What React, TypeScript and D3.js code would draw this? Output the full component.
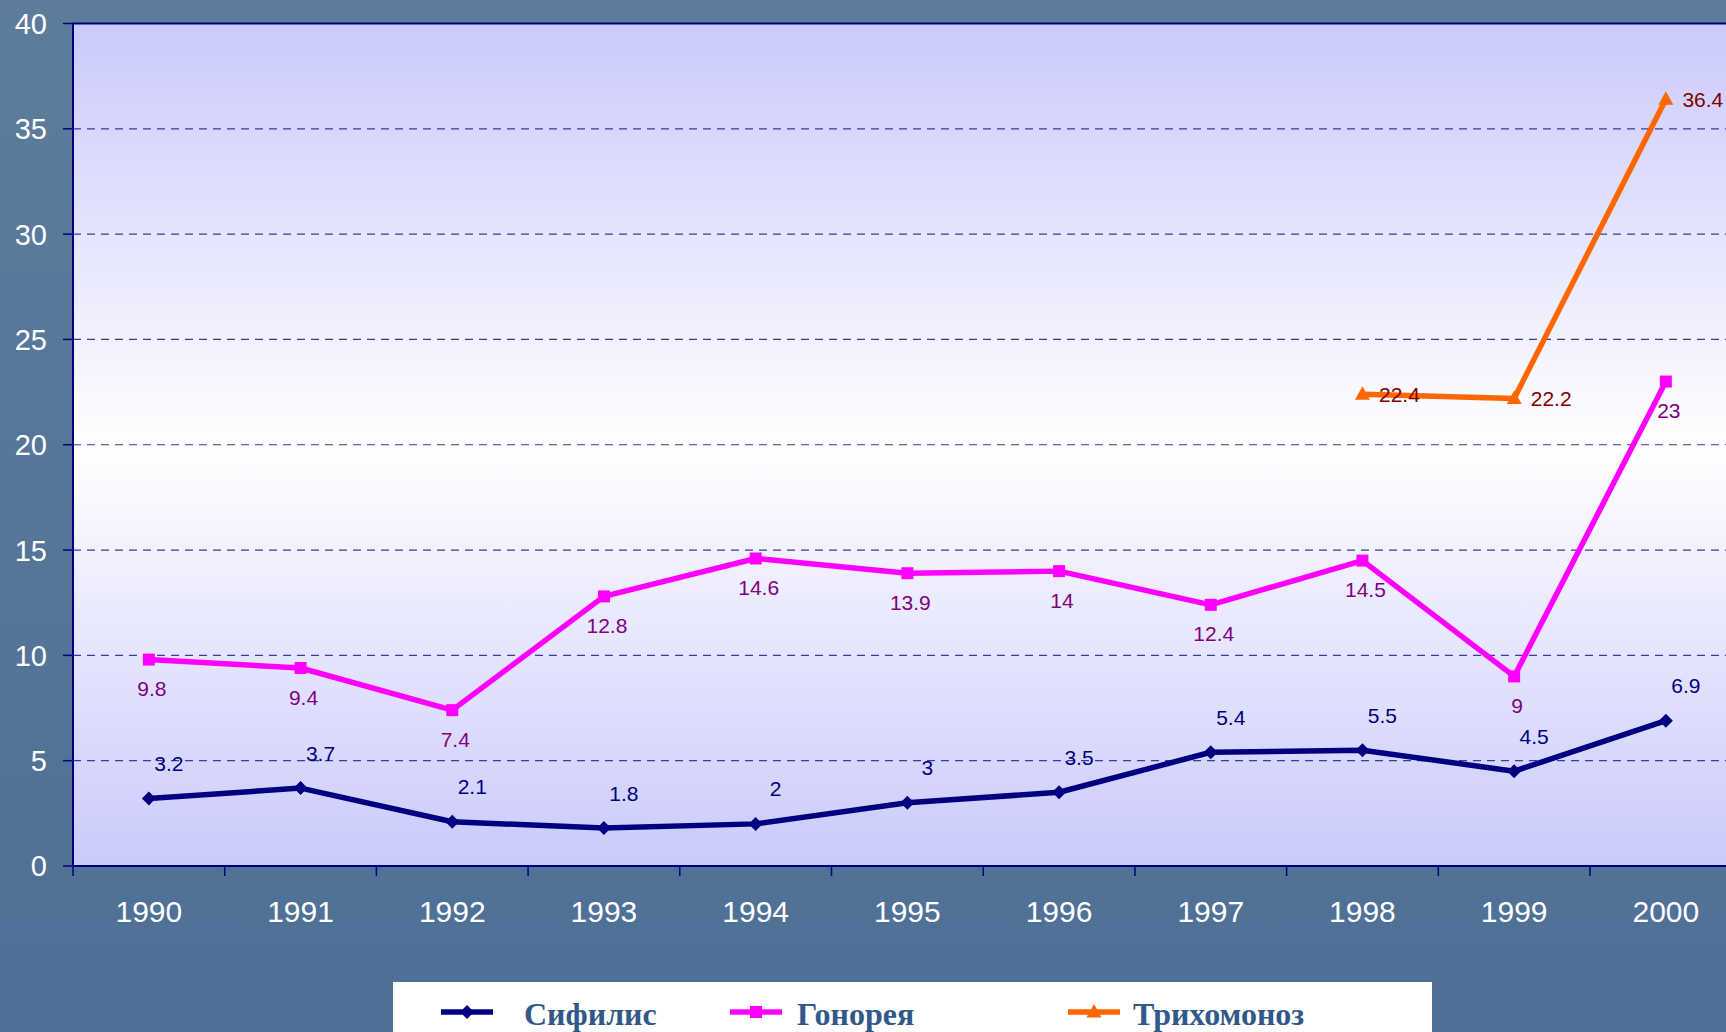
import React from 'react';
import * as d3 from 'd3';

const years = ['1990', '1991', '1992', '1993', '1994', '1995', '1996', '1997', '1998', '1999', '2000'];
const syphilis = [3.2, 3.7, 2.1, 1.8, 2, 3, 3.5, 5.4, 5.5, 4.5, 6.9];
const gonorrhea = [9.8, 9.4, 7.4, 12.8, 14.6, 13.9, 14, 12.4, 14.5, 9, 23];
const trichomoniasis: (number | null)[] = [null, null, null, null, null, null, null, null, 22.4, 22.2, 36.4];
const yTicks = [0, 5, 10, 15, 20, 25, 30, 35, 40];
const seriesNames = ['Сифилис', 'Гонорея', 'Трихомоноз'];

const W = 1726;
const H = 1032;
const left = 73;
const top = 23.5;
const bottom = 866;
const catW = 151.7;

const x = d3.scaleBand<string>().domain(years).range([left, left + catW * years.length]).paddingInner(0).paddingOuter(0);
const y = d3.scaleLinear().domain([0, 40]).range([bottom, top]);
const cx = (yr: string) => (x(yr) as number) + x.bandwidth() / 2;

const diamondPath = 'M0,-7L7,0L0,7L-7,0Z';
const squarePath = 'M-6,-6H6V6H-6Z';
const trianglePath = 'M0,-8L7.5,5.5L-7.5,5.5Z';

type Series = {
  name: string;
  values: (number | null)[];
  color: string;
  labelColor: string;
  marker: string;
  dx: number;
  dy: number;
};

const series: Series[] = [
  { name: seriesNames[0], values: syphilis, color: '#000080', labelColor: '#000080', marker: diamondPath, dx: 20, dy: -35 },
  { name: seriesNames[1], values: gonorrhea, color: '#FF00FF', labelColor: '#800080', marker: squarePath, dx: 3, dy: 29 },
  { name: seriesNames[2], values: trichomoniasis, color: '#FF6600', labelColor: '#800000', marker: trianglePath, dx: 37, dy: 0 },
];

export default function App() {
  const line = d3
    .line<number | null>()
    .defined((d) => d !== null)
    .x((_, i) => cx(years[i]))
    .y((d) => y(d as number));

  const legendLineX = [441, 730, 1068];
  const legendTextX = [524, 797, 1133];
  const plotRight = left + catW * years.length;

  return (
    <div style={{ position: 'absolute', left: 0, top: 0, width: W, height: H, overflow: 'hidden' }}>
      <svg width={W} height={H} style={{ display: 'block' }}>
        <defs>
          <linearGradient id="plotBg" x1="0" y1="0" x2="0" y2="1">
            <stop offset="0" stopColor="#cacafc" />
            <stop offset="0.5" stopColor="#ffffff" />
            <stop offset="1" stopColor="#cacafc" />
          </linearGradient>
          <linearGradient id="pageBg" x1="0" y1="0" x2="0" y2="1">
            <stop offset="0" stopColor="#5d7c9d" />
            <stop offset="1" stopColor="#4e7096" />
          </linearGradient>
        </defs>
        <rect x={0} y={0} width={W} height={H} fill="url(#pageBg)" />
        <rect x={left} y={top} width={plotRight - left} height={bottom - top} fill="url(#plotBg)" />

        {yTicks.filter((t) => t > 0 && t < 40).map((t) => (
          <line key={'g' + t} x1={left} x2={plotRight} y1={y(t)} y2={y(t)} stroke="#3a3aa0" strokeWidth={1.2} strokeDasharray="8,6" />
        ))}

        <line x1={left} x2={plotRight} y1={top} y2={top} stroke="#000080" strokeWidth={2} />
        <line x1={left} x2={left} y1={top} y2={bottom} stroke="#000080" strokeWidth={2} />
        <line x1={left} x2={plotRight} y1={bottom} y2={bottom} stroke="#000080" strokeWidth={2} />

        {yTicks.map((t) => (
          <g key={'yt' + t}>
            <line x1={63} x2={left} y1={y(t)} y2={y(t)} stroke="#000080" strokeWidth={1.5} />
            <text x={47} y={y(t)} dy="0.36em" textAnchor="end" fontFamily="Liberation Sans, Arial, sans-serif" fontSize={29} fill="#ffffff">
              {t}
            </text>
          </g>
        ))}

        {years.map((yr) => (
          <g key={'xt' + yr}>
            <line x1={x(yr) as number} x2={x(yr) as number} y1={bottom} y2={bottom + 10} stroke="#000080" strokeWidth={1.5} />
            <text x={cx(yr)} y={922} textAnchor="middle" fontFamily="Liberation Sans, Arial, sans-serif" fontSize={30} fill="#ffffff">
              {yr}
            </text>
          </g>
        ))}

        {series.map((s) => (
          <g key={s.name}>
            <path d={line(s.values) || ''} fill="none" stroke={s.color} strokeWidth={5.5} strokeLinejoin="round" />
            {s.values.map((v, i) =>
              v === null ? null : (
                <path key={i} d={s.marker} transform={`translate(${cx(years[i])},${y(v)})`} fill={s.color} />
              )
            )}
          </g>
        ))}

        {series.map((s) => (
          <g key={s.name + 'lbl'}>
            {s.values.map((v, i) =>
              v === null ? null : (
                <text
                  key={i}
                  x={cx(years[i]) + s.dx}
                  y={y(v) + s.dy}
                  dy="0.36em"
                  textAnchor="middle"
                  fontFamily="Liberation Sans, Arial, sans-serif"
                  fontSize={21}
                  fill={s.labelColor}
                >
                  {String(v)}
                </text>
              )
            )}
          </g>
        ))}

        <rect x={393} y={982} width={1039} height={60} fill="#ffffff" />
        {series.map((s, i) => (
          <g key={s.name + 'leg'}>
            <line x1={legendLineX[i]} x2={legendLineX[i] + 52} y1={1012} y2={1012} stroke={s.color} strokeWidth={5.5} />
            <path d={s.marker} transform={`translate(${legendLineX[i] + 26},1012)`} fill={s.color} />
            <text x={legendTextX[i]} y={1025} fontFamily="Liberation Serif, Times New Roman, serif" fontWeight="bold" fontSize={32} fill="#30598a">
              {s.name}
            </text>
          </g>
        ))}
      </svg>
    </div>
  );
}
